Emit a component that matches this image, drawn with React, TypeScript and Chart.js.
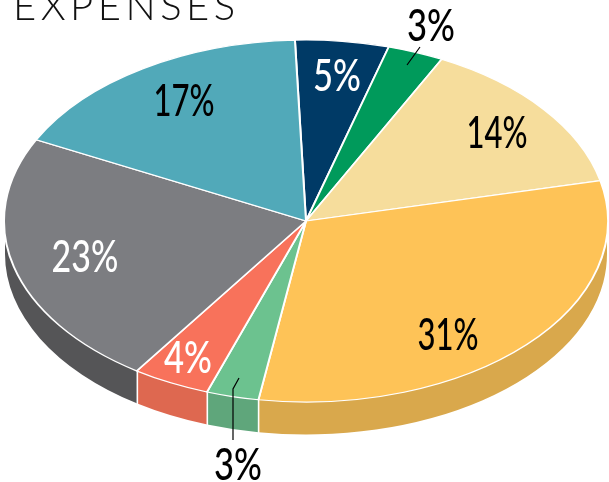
import React, { useEffect, useRef } from "react";
import { Chart, registerables } from "chart.js";

Chart.register(...registerables);

const categories = ["Navy", "Green", "Sand", "Orange", "Light green", "Coral", "Gray", "Teal"];
const shares = [5, 3, 14, 31.1, 2.8, 4.15, 22.95, 17];
const percentLabels = ["5%", "3%", "14%", "31%", "3%", "4%", "23%", "17%"];
const topColors = ["#003a66", "#009a5b", "#f6dd9c", "#fec357", "#6cc28f", "#f8725b", "#7c7d81", "#51a9b9"];
const wallColors = ["#002a4a", "#007040", "#c9b47e", "#d9a84c", "#5fa67b", "#de6850", "#555557", "#3f8593"];
const labelColors = ["#ffffff", "#000000", "#000000", "#000000", "#000000", "#ffffff", "#ffffff", "#000000"];
const titleText = "EXPENSES";

// Layout of the drawing (not data)
const labelCenters = [[337, 76], [431, 26], [497, 133], [448, 335], [238, 465], [188, 358], [85, 257], [184, 101]];
const RX = 302;
const RY = 181;
const DEPTH = 33;
const K = RY / RX;

const pie3d = {
  id: "pie3d",
  beforeDatasetsDraw(chart: any) {
    const ctx = chart.ctx;
    const arcs = chart.getDatasetMeta(0).data;
    const cx = arcs[0].x;
    const cy = arcs[0].y;
    ctx.save();
    // side wall
    arcs.forEach((arc: any, i: number) => {
      const a = Math.max(arc.startAngle, 0);
      const b = Math.min(arc.endAngle, Math.PI);
      if (b <= a) return;
      ctx.beginPath();
      ctx.ellipse(cx, cy, RX - 1, RY - 0.5, 0, a, b);
      ctx.ellipse(cx, cy + DEPTH, RX - 1, RY - 0.5, 0, b, a, true);
      ctx.closePath();
      ctx.fillStyle = wallColors[i];
      ctx.fill();
    });
    // seams
    arcs.forEach((arc: any) => {
      const a = arc.startAngle;
      if (a <= 0 || a >= Math.PI) return;
      const x = cx + (RX - 1) * Math.cos(a);
      const y = cy + (RY - 0.5) * Math.sin(a);
      ctx.beginPath();
      ctx.moveTo(x, y);
      ctx.lineTo(x, y + DEPTH + 1);
      ctx.strokeStyle = "#ffffff";
      ctx.lineWidth = 1.6;
      ctx.stroke();
    });
    // squash the library's arcs into the ellipse
    ctx.translate(0, cy);
    ctx.scale(1, K);
    ctx.translate(0, -cy);
  },
  afterDatasetsDraw(chart: any) {
    const ctx = chart.ctx;
    ctx.restore();
    ctx.save();
    // leader lines
    ctx.strokeStyle = "#000000";
    ctx.lineWidth = 1.2;
    ctx.beginPath();
    ctx.moveTo(420, 47);
    ctx.lineTo(407, 65);
    ctx.moveTo(239, 378);
    ctx.lineTo(233, 389);
    ctx.lineTo(233, 440);
    ctx.stroke();
    // labels
    ctx.textAlign = "center";
    ctx.textBaseline = "alphabetic";
    percentLabels.forEach((text, i) => {
      const [x, y] = labelCenters[i];
      ctx.save();
      ctx.translate(x, y + 15);
      ctx.scale(text.includes("1") ? 0.69 : text.length > 2 ? 0.755 : 0.77, 1);
      ctx.font = '500 45px Lato, "Open Sans", sans-serif';
      ctx.fillStyle = labelColors[i];
      ctx.fillText(text, 0, 0);
      ctx.restore();
    });
    // title, cropped by the top of the picture as in the reference
    ctx.font = '300 40px Lato, "Open Sans", sans-serif';
    ctx.fillStyle = "#111111";
    ctx.textAlign = "left";
    (ctx as any).letterSpacing = "4.5px";
    ctx.fillText(titleText, 13, 20);
    ctx.restore();
  },
};

export default function App() {
  const ref = useRef<HTMLCanvasElement>(null);
  useEffect(() => {
    const chart = new Chart(ref.current!, {
      type: "pie",
      data: {
        labels: categories,
        datasets: [
          {
            data: shares,
            backgroundColor: topColors,
            borderColor: "#ffffff",
            borderWidth: 2,
            clip: false,
          } as any,
        ],
      },
      options: {
        animation: false,
        responsive: false,
        radius: RX,
        rotation: -2.1,
        layout: { padding: { left: 3, right: 0, top: 0, bottom: 40 } },
        plugins: { legend: { display: false }, tooltip: { enabled: false }, title: { display: false } },
      } as any,
      plugins: [pie3d],
    });
    return () => chart.destroy();
  }, []);
  return (
    <div style={{ position: "absolute", left: 0, top: 0, width: 609, height: 482, background: "#fff" }}>
      <canvas ref={ref} width={609} height={482} style={{ display: "block" }} />
    </div>
  );
}
